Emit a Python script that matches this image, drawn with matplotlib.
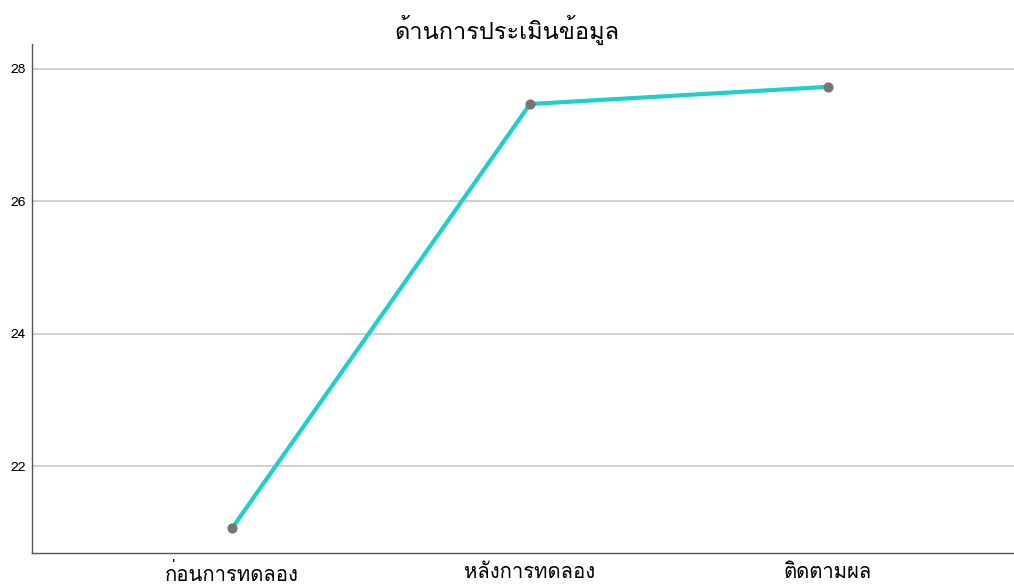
import matplotlib
matplotlib.use('Agg')
import matplotlib.pyplot as plt
from matplotlib import font_manager
from fontTools.ttLib import TTFont

stages = ['ก่อนการทดลอง', 'หลังการทดลอง', 'ติดตามผล']
means = [21.06, 27.47, 27.73]
y_ticks = [22, 24, 26, 28]
title = 'ด้านการประเมินข้อมูล'

# find an installed family that can draw Thai
thai_fams = []
for f in font_manager.fontManager.ttflist:
    try:
        tt = TTFont(f.fname, fontNumber=0, lazy=True)
        cmap = tt.getBestCmap()
        if cmap and 0x0E01 in cmap and 0x0E48 in cmap and f.name not in thai_fams:
            thai_fams.append(f.name)
    except Exception:
        pass
if 'Loma' in thai_fams:
    thai_fams.remove('Loma')
    thai_fams.insert(0, 'Loma')

plt.rcParams['font.family'] = thai_fams + ['DejaVu Sans']

fig = plt.figure(figsize=(10.14, 5.86), dpi=100)
ax = fig.add_axes([32 / 1014, 1 - 553 / 586, (1014 - 32) / 1014, (553 - 44) / 586])

x = list(range(len(stages)))
ax.plot(x, means, color='#1fcfcb', linewidth=3, zorder=2)
ax.scatter(x, means, color='#767676', s=40, zorder=3)

ax.set_xlim(-0.671, 2.624)
ax.set_ylim(20.687, 28.377)
ax.set_yticks(y_ticks)
ax.set_xticks(x)
ax.set_xticklabels(stages, fontsize=14.6)
ax.tick_params(axis='y', labelsize=10, length=0, pad=4)
ax.tick_params(axis='x', length=0, pad=7)
ax.grid(axis='y', color='#c8c8c8', linewidth=1.2, zorder=0)
for s in ['top', 'right']:
    ax.spines[s].set_visible(False)
for s in ['left', 'bottom']:
    ax.spines[s].set_color('#555555')
    ax.spines[s].set_linewidth(1)

fig.text(0.5, 1 - 30 / 586, title, ha='center', va='center', fontsize=17)

fig.savefig('out.png', dpi=100)
